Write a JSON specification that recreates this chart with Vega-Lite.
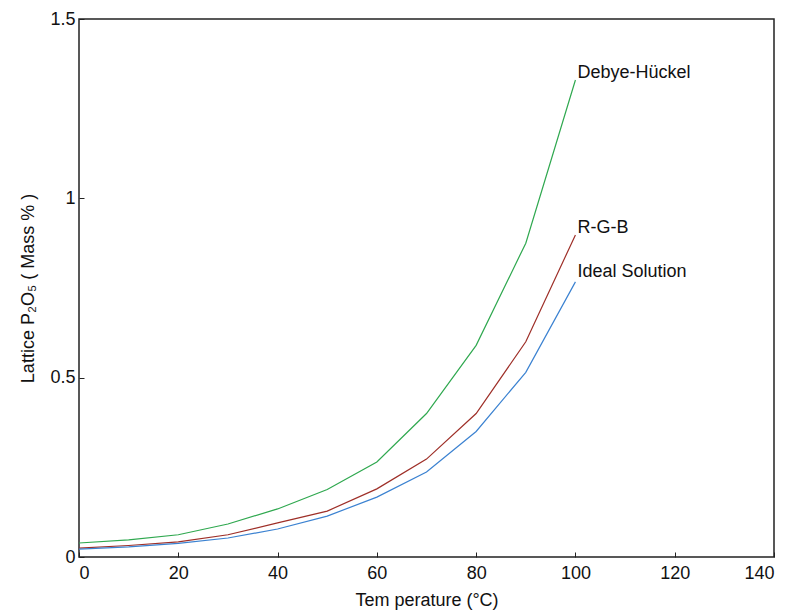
{
  "$schema": "https://vega.github.io/schema/vega-lite/v6.json",
  "width": 695,
  "height": 538,
  "autosize": {"type": "none"},
  "padding": {"left": 79, "top": 19, "right": 19, "bottom": 54},
  "background": "white",
  "config": {
    "view": {"stroke": "#222", "strokeWidth": 1.5},
    "font": "Liberation Sans",
    "axis": {
      "grid": false,
      "domain": false,
      "tickColor": "#222",
      "tickSize": -5,
      "labelFontSize": 18,
      "labelColor": "#111",
      "titleFontSize": 18,
      "titleFontWeight": "normal",
      "titleColor": "#111",
      "labelPadding": 9
    }
  },
  "datasets": {
    "curves": [
      {"T": 0, "v": 0.039, "model": "Debye-Hückel"},
      {"T": 10, "v": 0.048, "model": "Debye-Hückel"},
      {"T": 20, "v": 0.062, "model": "Debye-Hückel"},
      {"T": 30, "v": 0.092, "model": "Debye-Hückel"},
      {"T": 40, "v": 0.134, "model": "Debye-Hückel"},
      {"T": 50, "v": 0.188, "model": "Debye-Hückel"},
      {"T": 60, "v": 0.265, "model": "Debye-Hückel"},
      {"T": 70, "v": 0.40, "model": "Debye-Hückel"},
      {"T": 80, "v": 0.59, "model": "Debye-Hückel"},
      {"T": 90, "v": 0.875, "model": "Debye-Hückel"},
      {"T": 100, "v": 1.33, "model": "Debye-Hückel"},
      {"T": 0, "v": 0.025, "model": "R-G-B"},
      {"T": 10, "v": 0.032, "model": "R-G-B"},
      {"T": 20, "v": 0.042, "model": "R-G-B"},
      {"T": 30, "v": 0.062, "model": "R-G-B"},
      {"T": 40, "v": 0.095, "model": "R-G-B"},
      {"T": 50, "v": 0.128, "model": "R-G-B"},
      {"T": 60, "v": 0.19, "model": "R-G-B"},
      {"T": 70, "v": 0.273, "model": "R-G-B"},
      {"T": 80, "v": 0.40, "model": "R-G-B"},
      {"T": 90, "v": 0.60, "model": "R-G-B"},
      {"T": 100, "v": 0.898, "model": "R-G-B"},
      {"T": 0, "v": 0.022, "model": "Ideal Solution"},
      {"T": 10, "v": 0.028, "model": "Ideal Solution"},
      {"T": 20, "v": 0.038, "model": "Ideal Solution"},
      {"T": 30, "v": 0.053, "model": "Ideal Solution"},
      {"T": 40, "v": 0.078, "model": "Ideal Solution"},
      {"T": 50, "v": 0.114, "model": "Ideal Solution"},
      {"T": 60, "v": 0.167, "model": "Ideal Solution"},
      {"T": 70, "v": 0.237, "model": "Ideal Solution"},
      {"T": 80, "v": 0.35, "model": "Ideal Solution"},
      {"T": 90, "v": 0.515, "model": "Ideal Solution"},
      {"T": 100, "v": 0.767, "model": "Ideal Solution"}
    ],
    "labels": [
      {"T": 100, "v": 1.35, "model": "Debye-Hückel"},
      {"T": 100, "v": 0.917, "model": "R-G-B"},
      {"T": 100, "v": 0.795, "model": "Ideal Solution"}
    ]
  },
  "layer": [
    {
      "data": {"name": "curves"},
      "mark": {"type": "line", "strokeWidth": 1.2},
      "encoding": {
        "x": {
          "field": "T", "type": "quantitative",
          "scale": {"domain": [0, 140], "nice": false},
          "axis": {"values": [0, 20, 40, 60, 80, 100, 120, 140], "title": "Tem perature (°C)", "titlePadding": 9, "labelPadding": 12}
        },
        "y": {
          "field": "v", "type": "quantitative",
          "scale": {"domain": [0, 1.5], "nice": false},
          "axis": {"values": [0, 0.5, 1, 1.5], "format": ".1~f", "title": "Lattice P₂O₅  ( Mass % )", "titlePadding": 12}
        },
        "color": {
          "field": "model", "type": "nominal",
          "scale": {"domain": ["Debye-Hückel", "R-G-B", "Ideal Solution"], "range": ["#2fa84f", "#9e2f28", "#3b82d1"]},
          "legend": null
        }
      }
    },
    {
      "data": {"name": "labels"},
      "mark": {"type": "text", "align": "left", "baseline": "middle", "fontSize": 18, "color": "#111", "dx": 2},
      "encoding": {
        "x": {"field": "T", "type": "quantitative"},
        "y": {"field": "v", "type": "quantitative"},
        "text": {"field": "model"}
      }
    }
  ]
}
